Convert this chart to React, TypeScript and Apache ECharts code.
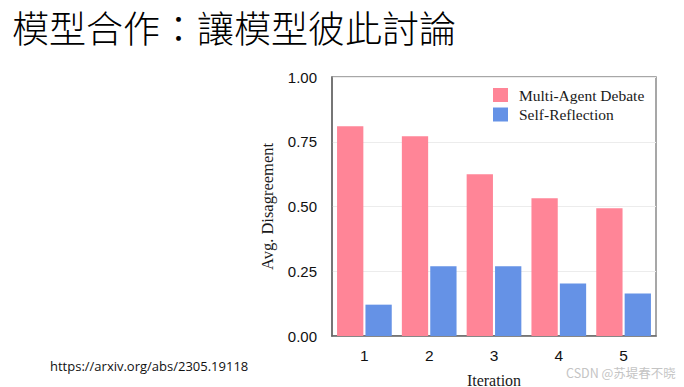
import React, { useEffect, useRef } from "react";
import * as echarts from "echarts";

const titleText = "模型合作：讓模型彼此討論";
const urlText = "https://arxiv.org/abs/2305.19118";
const watermarkText = "CSDN @苏堤春不晓";
const iterations = ["1", "2", "3", "4", "5"];
const multiAgentDebate = [0.81, 0.771, 0.625, 0.532, 0.493];
const selfReflection = [0.121, 0.269, 0.269, 0.203, 0.164];
const seriesNames = ["Multi-Agent Debate", "Self-Reflection"];

export default function App() {
  const ref = useRef<HTMLDivElement>(null);
  useEffect(() => {
    if (!ref.current) return;
    const chart = echarts.init(ref.current, null, { renderer: "svg" });
    chart.setOption({
      animation: false,
      backgroundColor: "#ffffff",
      grid: {
        left: 332,
        right: 28,
        top: 77,
        bottom: 51,
        containLabel: false,
        outerBoundsMode: "none",
        show: true,
        borderColor: "#8a8a8a",
        borderWidth: 1.5,
      },
      legend: {
        orient: "vertical",
        left: 493,
        top: 87,
        padding: 0,
        itemWidth: 15,
        itemHeight: 14,
        itemGap: 3.5,
        icon: "rect",
        textStyle: {
          fontFamily: "Liberation Serif",
          fontSize: 15.5,
          color: "#1a1a1a",
          padding: [0, 0, 0, 6],
        },
        data: seriesNames,
      },
      xAxis: {
        type: "category",
        data: iterations,
        name: "Iteration",
        nameLocation: "middle",
        nameGap: 36,
        nameTextStyle: {
          fontFamily: "Liberation Serif",
          fontSize: 16,
          color: "#1a1a1a",
        },
        axisLine: { lineStyle: { color: "#666", width: 1.5 } },
        axisTick: { show: false },
        axisLabel: {
          fontFamily: "Liberation Sans",
          fontSize: 15.5,
          color: "#111",
          margin: 11,
        },
      },
      yAxis: {
        type: "value",
        min: 0,
        max: 1,
        interval: 0.25,
        name: "Avg. Disagreement",
        nameLocation: "middle",
        nameGap: 56,
        nameTextStyle: {
          fontFamily: "Liberation Serif",
          fontSize: 16.5,
          color: "#1a1a1a",
        },
        axisLine: { show: true, lineStyle: { color: "#666", width: 1.5 } },
        axisTick: { show: false },
        axisLabel: {
          fontFamily: "Liberation Sans",
          fontSize: 15,
          color: "#111",
          margin: 15,
          formatter: (v: number) => v.toFixed(2),
        },
        splitLine: { lineStyle: { color: "#ececec", width: 1 } },
      },
      series: [
        {
          name: seriesNames[0],
          type: "bar",
          data: multiAgentDebate,
          barGap: "8%",
          barCategoryGap: "15.6%",
          itemStyle: { color: "#FF8597" },
        },
        {
          name: seriesNames[1],
          type: "bar",
          data: selfReflection,
          barGap: "8%",
          barCategoryGap: "15.6%",
          itemStyle: { color: "#6592E6" },
        },
      ],
      graphic: [
        {
          type: "text",
          left: 12,
          top: 8,
          style: {
            text: titleText,
            fontFamily: "Noto Sans CJK TC",
            fontSize: 37,
            fontWeight: 300,
            fill: "#000",
          },
        },
        {
          type: "text",
          left: 50,
          top: 359,
          style: {
            text: urlText,
            fontFamily: "Open Sans",
            fontSize: 13,
            fill: "#111",
          },
        },
        {
          type: "text",
          left: 566,
          top: 366,
          style: {
            text: watermarkText,
            fontFamily: "Noto Sans CJK SC",
            fontSize: 12.5,
            fill: "#c4c4c4",
          },
        },
      ],
    });
    return () => chart.dispose();
  }, []);
  return (
    <div
      ref={ref}
      style={{ position: "fixed", left: 0, top: 0, width: 684, height: 387 }}
    />
  );
}
